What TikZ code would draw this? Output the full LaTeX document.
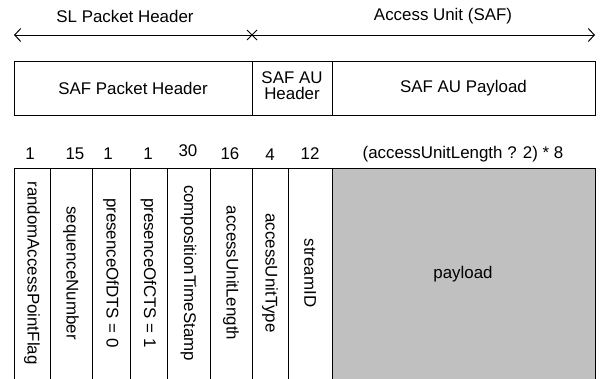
\documentclass[tikz,border=0pt]{standalone}
\usepackage{fontspec}
\setmainfont{Liberation Sans}
\usetikzlibrary{arrows.meta}
\begin{document}
\begin{tikzpicture}[x=1pt,y=-1pt,
  every node/.style={font=\fontsize{16.9}{18}\selectfont, inner sep=0pt},
  hbox/.style={draw, line width=1pt, minimum height=54pt},
  cell/.style={draw, line width=1pt, minimum height=230pt, anchor=north},
  vlabel/.style={rotate=-90},
  bits/.style={anchor=center}]
\useasboundingbox (0,0) rectangle (600,378);
\clip (0,0) rectangle (600,378);
% top labels and arrow
\node (slh) at (125,16) {SL Packet Header};
\node (auh) at (443,16) {Access Unit (SAF)};
\coordinate (aL) at (14,35);
\coordinate (aM) at (252,35);
\coordinate (aR) at (595,35);
\draw[line width=1pt, {Straight Barb[length=6pt,width=13pt]}-{Straight Barb[length=6pt,width=13pt]}] (aL) -- (aR);
\draw[line width=1pt] ([shift={(-5,-5)}]aM) -- ([shift={(5,5)}]aM)
                        ([shift={(-5,5)}]aM) -- ([shift={(5,-5)}]aM);
% header boxes
\node[hbox, minimum width=238pt] (sph) at (133,88) {SAF Packet Header};
\node[hbox, minimum width=80pt] (sah) at (292,88) {\begin{tabular}{@{}c@{}}SAF AU\\[-2pt]Header\end{tabular}};
\node[hbox, minimum width=263pt] (sap) at (463.5,88) {SAF AU Payload};
% field cells
\node[cell, minimum width=36pt] (c1) at (32,168) {};
\node[cell, minimum width=42pt] (c2) at (71,168) {};
\node[cell, minimum width=38pt] (c3) at (111,168) {};
\node[cell, minimum width=37pt] (c4) at (148.5,168) {};
\node[cell, minimum width=43pt] (c5) at (188.5,168) {};
\node[cell, minimum width=42pt] (c6) at (231,168) {};
\node[cell, minimum width=36pt] (c7) at (270,168) {};
\node[cell, minimum width=44pt] (c8) at (310,168) {};
\node[cell, minimum width=263pt, fill={rgb,255:red,192;green,192;blue,192}] (c9) at (463.5,168) {};
% bit counts
\node[bits] (n1) at (30,154) {1};
\node[bits] (n2) at (75,154) {15};
\node[bits] (n3) at (108,154) {1};
\node[bits] (n4) at (148,154) {1};
\node[bits] (n5) at (188,151) {30};
\node[bits] (n6) at (230,154) {16};
\node[bits] (n7) at (270,155) {4};
\node[bits] (n8) at (310,154) {12};
\node[bits] (n9) at (463,154) {(accessUnitLength ? 2) * 8};
% field names
\node[vlabel] (f1) at (32,273) {randomAccessPointFlag};
\node[vlabel] (f2) at (71,273) {sequenceNumber};
\node[vlabel] (f3) at (111,273) {presenceOfDTS = 0};
\node[vlabel] (f4) at (148.5,273) {presenceOfCTS = 1};
\node[vlabel] (f5) at (188.5,273) {compositionTimeStamp};
\node[vlabel] (f6) at (231,273) {accessUnitLength};
\node[vlabel] (f7) at (270,273) {accessUnitType};
\node[vlabel] (f8) at (310,273) {streamID};
\node (f9) at (463,274) {payload};
\end{tikzpicture}
\end{document}
